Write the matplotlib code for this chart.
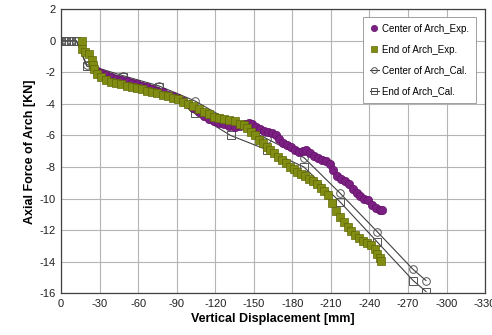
import matplotlib
matplotlib.use("Agg")
import matplotlib.pyplot as plt

# =========================================================
# DATA
# =========================================================
center_exp_x = [-25, -28, -31, -35, -39, -43, -47, -51, -55, -59, -63, -67, -71, -75,
                -79, -83, -87, -91, -95, -99, -103, -107, -111, -115, -119, -123, -127,
                -131, -135, -139, -143, -146, -149, -152, -155, -158, -161, -164, -167,
                -170, -173, -176, -179, -182, -185, -188, -191, -194, -197, -200, -203,
                -206, -209, -212, -215, -218, -221, -224, -227, -230, -233, -236, -239,
                -242, -245, -248, -250]
center_exp_y = [-1.6, -1.9, -2.05, -2.15, -2.3, -2.4, -2.45, -2.55, -2.65, -2.75, -2.85,
                -2.95, -3.05, -3.15, -3.25, -3.4, -3.5, -3.65, -3.8, -4.0, -4.25, -4.5,
                -4.75, -4.95, -5.1, -5.2, -5.3, -5.4, -5.45, -5.4, -5.3, -5.2, -5.3,
                -5.45, -5.6, -5.7, -5.75, -5.85, -6.0, -6.2, -6.45, -6.6, -6.7, -6.9,
                -7.05, -7.0, -6.9, -7.1, -7.3, -7.45, -7.55, -7.65, -7.8, -8.2, -8.55,
                -8.75, -8.9, -9.1, -9.4, -9.65, -9.85, -10.0, -10.1, -10.4, -10.6,
                -10.75, -10.7]

end_exp_x = [-16, -16, -19, -22, -24, -25, -26, -28, -31, -35, -39, -43, -47, -51, -55,
             -59, -63, -67, -71, -75, -79, -83, -87, -91, -95, -99, -103, -107, -111,
             -115, -119, -123, -127, -131, -135, -139, -142, -145, -148, -151, -154,
             -157, -160, -163, -166, -169, -172, -175, -178, -181, -184, -187, -190,
             -193, -196, -199, -202, -205, -208, -211, -214, -217, -220, -223, -226,
             -229, -232, -235, -238, -241, -244, -246, -248, -249]
end_exp_y = [0.0, -0.5, -0.7, -0.85, -1.2, -1.5, -1.8, -2.1, -2.3, -2.45, -2.6, -2.7,
             -2.75, -2.85, -2.95, -3.0, -3.05, -3.15, -3.25, -3.3, -3.4, -3.5, -3.6,
             -3.7, -3.85, -4.0, -4.15, -4.35, -4.5, -4.65, -4.8, -4.9, -4.95, -5.0,
             -5.1, -5.25, -5.35, -5.5, -5.75, -6.0, -6.3, -6.5, -6.7, -6.9, -7.1,
             -7.35, -7.55, -7.75, -8.0, -8.15, -8.3, -8.45, -8.6, -8.75, -8.9, -9.1,
             -9.3, -9.5, -9.8, -10.3, -10.8, -11.2, -11.5, -11.8, -12.05, -12.3,
             -12.5, -12.7, -12.85, -12.95, -13.2, -13.5, -13.8, -13.95]

cal_x = [0, -4, -8, -12, -20, -48, -76, -104, -132, -160, -189, -217, -246, -274, -284]
center_cal_y = [0, 0, 0, 0, -1.5, -2.2, -2.85, -3.8, -5.1, -6.2, -7.4, -9.65, -12.1,
                -14.5, -15.2]
end_cal_y = [0, 0, 0, 0, -1.6, -2.3, -2.95, -4.6, -6.0, -6.9, -8.0, -10.2, -12.75,
             -15.2, -15.9]

x_ticks = [0, -30, -60, -90, -120, -150, -180, -210, -240, -270, -300, -330]
y_ticks = [2, 0, -2, -4, -6, -8, -10, -12, -14, -16]

# =========================================================
# PLOT
# =========================================================
plt.rcParams['font.family'] = ['Liberation Sans', 'DejaVu Sans']
plt.rcParams['axes.unicode_minus'] = False

fig = plt.figure(figsize=(4.92, 3.35), dpi=100)
ax = fig.add_axes([0.124, 0.125, 0.862, 0.847])

# calculated lines sit under the measured markers
ax.plot(cal_x, center_cal_y, '-o', color='#404040', linewidth=0.8, markersize=5.5,
        markerfacecolor='none', markeredgecolor='#555555', markeredgewidth=0.7,
        label='Center of Arch_Cal.', zorder=2)
ax.plot(cal_x, end_cal_y, '-s', color='#404040', linewidth=0.8, markersize=5.5,
        markerfacecolor='none', markeredgecolor='#555555', markeredgewidth=0.7,
        label='End of Arch_Cal.', zorder=2)
ax.plot(center_exp_x, center_exp_y, 'o', color='#7b1f82', markersize=6,
        markeredgecolor='#65126b', markeredgewidth=0.5, label='Center of Arch_Exp.',
        zorder=3)
ax.plot(end_exp_x, end_exp_y, 's', color='#808c12', markersize=5.5,
        markeredgecolor='#5f6806', markeredgewidth=0.5, label='End of Arch_Exp.',
        zorder=4)

ax.set_xlim(0, -330)
ax.set_ylim(-16, 2)
ax.set_xticks(x_ticks)
ax.set_yticks(y_ticks)
ax.grid(True, color='#b4b4b4', linewidth=0.8)
ax.set_axisbelow(True)
ax.tick_params(length=0, labelsize=8, pad=4, colors='#202020')
for sp in ax.spines.values():
    sp.set_color('#404040')
    sp.set_linewidth(0.9)

ax.set_xlabel('Vertical Displacement [mm]', fontsize=9, fontweight='bold', labelpad=3)
ax.set_ylabel('Axial Force of Arch [KN]', fontsize=9, fontweight='bold', labelpad=2)

handles, labels = ax.get_legend_handles_labels()
order = [2, 3, 0, 1]
leg = ax.legend([handles[i] for i in order], [labels[i] for i in order],
                loc='upper right', bbox_to_anchor=(0.99, 0.99), fontsize=7,
                handlelength=1.0, handletextpad=0.3, borderpad=0.7, labelspacing=1.1,
                fancybox=False, framealpha=1, edgecolor='#909090', markerscale=0.75)
leg.get_frame().set_linewidth(0.6)

fig.savefig('out.png', dpi=100)
